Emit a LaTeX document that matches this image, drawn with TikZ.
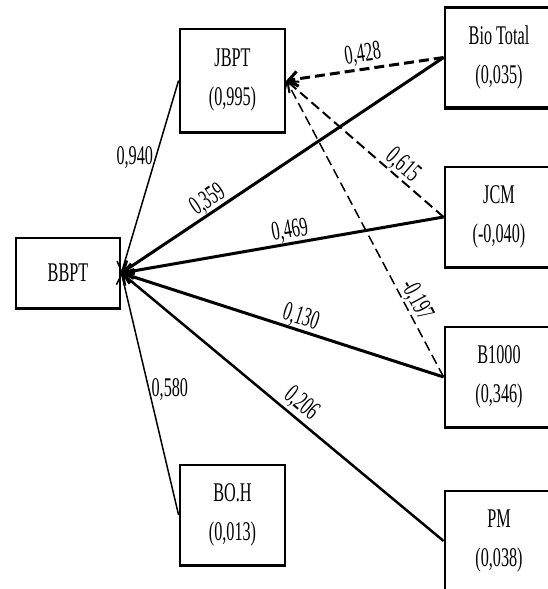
\documentclass[tikz,border=0pt]{standalone}
\usepackage{fontspec}
\usepackage{graphicx}
\usetikzlibrary{arrows.meta}
\setmainfont{Liberation Serif}
\newfontfamily\narrowserif[FakeStretch=0.6]{Liberation Serif}
% narrow text that stays upright along a sloped edge
\newcommand{\coefval}[1]{\scalebox{0.6}[1]{#1}}

\tikzset{
  varbox/.style={draw, line width=2.8pt, minimum width=105pt, minimum height=100pt, align=center,
    font=\narrowserif\fontsize{27}{39}\selectfont,
    append after command={[line width=5pt] (\tikzlastnode.south west) edge (\tikzlastnode.south east)}},
  coef/.style={inner sep=2pt, font=\fontsize{27}{39}\selectfont},
  thickpath/.style={line width=3pt},
  thinpath/.style={line width=1.5pt},
  dashpath/.style={dash pattern=on 10pt off 5pt}
}

\begin{document}
\begin{tikzpicture}[x=1pt, y=-1pt, >={Straight Barb[length=9pt,width=15pt]}]
        \useasboundingbox (0,0) rectangle (548,589);
        \clip (0,0) rectangle (548,589);

        % Nodes
        \node(bbpt) [varbox, minimum width=104pt, minimum height=70pt] at (68,273) {BBPT};
        \node(jbpt) [varbox, minimum height=103pt] at (232.5,80.5) {JBPT\\(0,995)};
        \node(boh) [varbox] at (232.5,515) {BO.H\\(0,013)};
        \node(bio) [varbox, minimum width=108pt] at (499,57.5) {Bio Total\\(0,035)};
        \node(jcm) [varbox, minimum width=108pt] at (499,217) {JCM\\(-0,040)};
        \node(b1000) [varbox, minimum width=108pt] at (499,377) {B1000\\(0,346)};
        \node(pm) [varbox, minimum width=108pt] at (499,541) {PM\\(0,038)};

        % Edges
        \draw[->, thinpath] (jbpt.west) -- node[coef, pos=0.4, left] {\coefval{0,940}} (bbpt.east);
        \draw[->, thinpath] (boh.west) -- node[coef, pos=0.52, right] {\coefval{0,580}} (bbpt.east);
        \draw[->, thickpath] (bio.west) -- node[coef, pos=0.71, sloped, above, inner sep=0pt] {\coefval{0,359}} (bbpt.east);
        \draw[->, thickpath] (jcm.west) -- node[coef, pos=0.47, sloped, above, inner sep=0pt] {\coefval{0,469}} (bbpt.east);
        \draw[->, thickpath] (b1000.west) -- node[coef, pos=0.455, sloped, above, inner sep=0pt] {\coefval{0,130}} (bbpt.east);
        \draw[->, line width=2.5pt] (pm.west) -- node[coef, pos=0.47, sloped, above] {\coefval{0,206}} (bbpt.east);
        \draw[->, thickpath, dashpath] (bio.west) -- node[coef, pos=0.5, sloped, above] {\coefval{0,428}} (jbpt.east);
        \draw[->, line width=2pt, dashpath] (jcm.west) -- node[coef, pos=0.31, sloped, above, inner sep=0pt] {\coefval{0,615}} (jbpt.east);
        \draw[->, thinpath, dashpath] (b1000.west) -- node[coef, pos=0.24, sloped, above, inner sep=0pt] {\coefval{-0,197}} (jbpt.east);

    \end{tikzpicture}
\end{document}
